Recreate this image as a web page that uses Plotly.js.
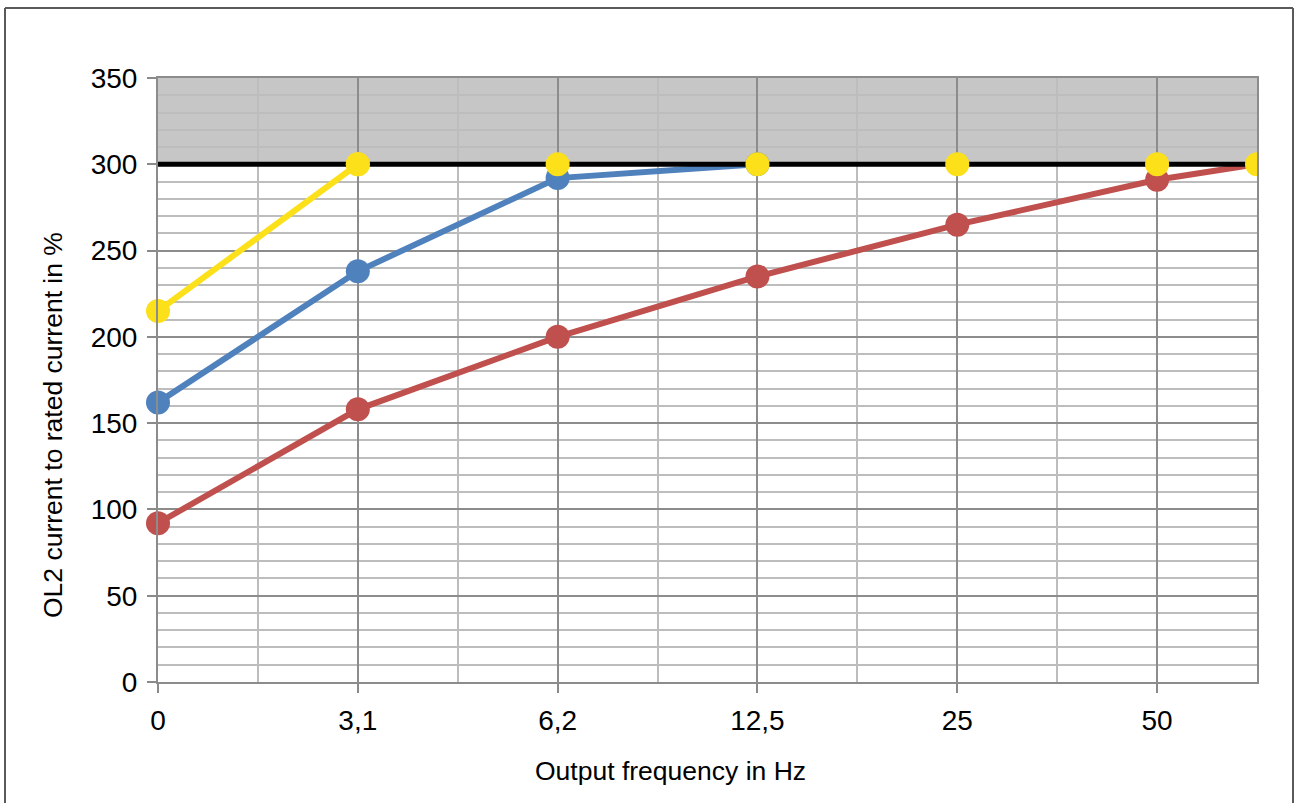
<!DOCTYPE html>
<html>
<head>
<meta charset="utf-8">
<script src="https://cdn.plot.ly/plotly-3.0.1.min.js"></script>
<style>
  html, body { margin: 0; padding: 0; background: #ffffff; }
  #chart { width: 1295px; height: 803px; }
</style>
</head>
<body>
<div id="chart"></div>
<script>
// ---- data ----
const categories = ["0", "3,1", "6,2", "12,5", "25", "50"];
const limitLevel = 300;          // OL2 limit (black line)
const yellowValues = [215, 300, 300, 300, 300, 300, 300];
const blueValues   = [162, 238, 292, 300];
const redValues    = [92, 158, 200, 235, 265, 291, 300];
const xAxisTitle = "Output frequency in Hz";
const yAxisTitle = "OL2 current to rated current in %";

// x positions: categories at index, last point at the right end of the axis
const xEnd = categories.length - 0.5;
function xs(vals) {
  return vals.map((v, i) => (i < categories.length ? i : xEnd));
}

const RED = "#C0504D", BLUE = "#4F81BD", YELLOW = "#FCE01A";
const MSIZE = 24, LW = 6;
const noOutline = { width: 0 };

const traces = [
  {
    x: xs(redValues), y: redValues, mode: "lines+markers",
    line: { color: RED, width: LW },
    marker: { color: RED, opacity: 1, line: noOutline,
              size: redValues.map((v, i) => (i < categories.length ? MSIZE : 0)) },
    cliponaxis: false, showlegend: false
  },
  {
    x: xs(blueValues), y: blueValues, mode: "lines+markers",
    line: { color: BLUE, width: LW },
    marker: { color: BLUE, size: MSIZE, opacity: 1, line: noOutline },
    cliponaxis: false, showlegend: false
  },
  {
    x: [0, xEnd], y: [limitLevel, limitLevel], mode: "lines",
    line: { color: "#000000", width: 5 },
    cliponaxis: true, showlegend: false, hoverinfo: "skip"
  },
  {
    x: xs(yellowValues).slice(0, 2), y: yellowValues.slice(0, 2), mode: "lines+markers",
    line: { color: YELLOW, width: LW },
    marker: { color: YELLOW, size: MSIZE, opacity: 1, line: noOutline },
    cliponaxis: false, showlegend: false
  },
  {
    x: xs(yellowValues).slice(1), y: yellowValues.slice(1), mode: "markers",
    marker: { color: YELLOW, size: MSIZE, opacity: 1, line: noOutline },
    cliponaxis: true, showlegend: false
  }
];

const L = 158, R = 38, T = 78, B = 121;
const W = 1295, H = 803;
const pw = W - L - R, ph = H - T - B;
const px = (x) => (x - L) / pw;        // pixel -> paper x
const py = (y) => (H - B - y) / ph;    // pixel -> paper y

const layout = {
  width: W, height: H,
  margin: { l: L, r: R, t: T, b: B, pad: 0 },
  paper_bgcolor: "#ffffff",
  plot_bgcolor: "#ffffff",
  font: { family: "Liberation Sans, Arial, sans-serif", color: "#000000", size: 28 },
  showlegend: false,
  xaxis: {
    range: [0, xEnd],
    tickmode: "array",
    tickvals: categories.map((c, i) => i),
    ticktext: categories,
    ticks: "outside", ticklen: 9, tickwidth: 2, tickcolor: "#8a8a8a",
    showgrid: true, gridcolor: "#8c8c8c", gridwidth: 2,
    minor: { dtick: 0.5, tick0: 0, showgrid: true, gridcolor: "#bdbdbd", gridwidth: 2, ticks: "" },
    showline: true, linecolor: "#8c8c8c", linewidth: 2, mirror: true,
    zeroline: false,
    tickfont: { size: 28 },
    ticklabelstandoff: 3,
    fixedrange: true
  },
  yaxis: {
    range: [0, 350],
    tickmode: "linear", tick0: 0, dtick: 50,
    ticks: "outside", ticklen: 9, tickwidth: 2, tickcolor: "#8a8a8a",
    showgrid: true, gridcolor: "#8c8c8c", gridwidth: 2,
    minor: { dtick: 10, tick0: 0, showgrid: true, gridcolor: "#bdbdbd", gridwidth: 2, ticks: "" },
    showline: true, linecolor: "#8c8c8c", linewidth: 2, mirror: true,
    zeroline: false,
    tickfont: { size: 28 },
    ticklabelstandoff: 4,
    fixedrange: true
  },
  shapes: [
    { type: "rect", xref: "x", yref: "y", x0: 0, x1: xEnd, y0: limitLevel, y1: 350,
      fillcolor: "#C5C6C5", line: { width: 0 }, layer: "below" },
    // outer frame
    { type: "line", xref: "paper", yref: "paper", x0: px(5), x1: px(5), y0: py(8), y1: py(820),
      line: { color: "#5a5a5a", width: 2 } },
    { type: "line", xref: "paper", yref: "paper", x0: px(5), x1: px(1293), y0: py(8), y1: py(8),
      line: { color: "#5a5a5a", width: 2 } },
    { type: "line", xref: "paper", yref: "paper", x0: px(1293), x1: px(1293), y0: py(8), y1: py(820),
      line: { color: "#5a5a5a", width: 2 } }
  ],
  annotations: [
    { text: xAxisTitle, xref: "paper", yref: "paper", x: px(670), y: py(771),
      xanchor: "center", yanchor: "middle", showarrow: false, font: { size: 26.5 } },
    { text: yAxisTitle, xref: "paper", yref: "paper", x: px(53), y: py(425),
      xanchor: "center", yanchor: "middle", textangle: -90, showarrow: false, font: { size: 26.5 } }
  ]
};

Plotly.newPlot("chart", traces, layout, { displayModeBar: false, staticPlot: true });
</script>
</body>
</html>
